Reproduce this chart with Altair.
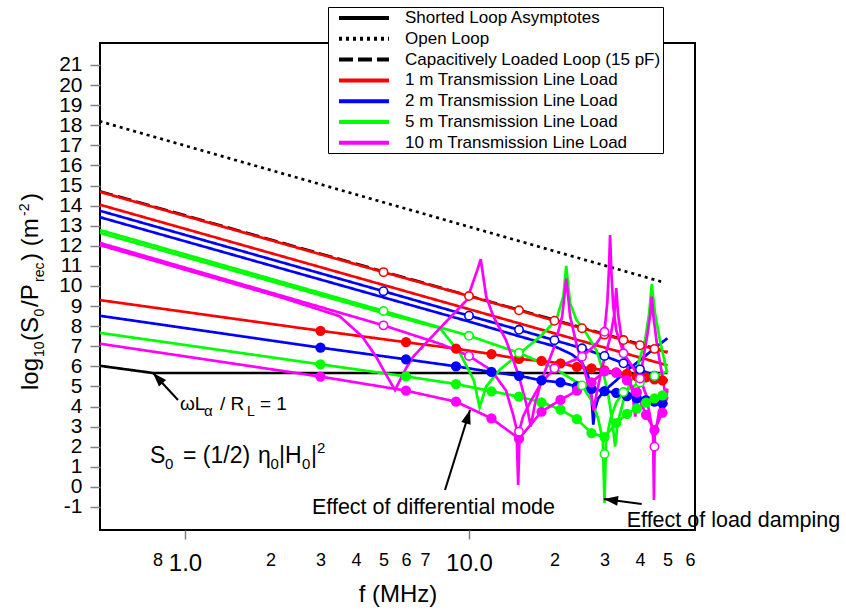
import altair as alt
import pandas as pd

FONT = "Liberation Sans"

SERIES = ["Shorted Loop Asymptotes", "Open Loop", "Capacitively Loaded Loop (15 pF)",
          "1 m Transmission Line Load", "2 m Transmission Line Load",
          "5 m Transmission Line Load", "10 m Transmission Line Load"]
COLORS = ["#000000", "#000000", "#000000", "#ff0000", "#0000ff", "#00ff00", "#ff00ff"]
DASHES = [[1, 0], [3, 4], [14, 5], [1, 0], [1, 0], [1, 0], [1, 0]]

# black reference curves
ASYM_F = [0.5, 0.77, 50]
ASYM_V = [6.03, 5.67, 5.67]
OPEN_F = [0.5, 48]
OPEN_V = [18.2, 10.2]
CAP_F = [0.5, 50]
CAP_V = [14.72, 6.72]

# upper curves (with open circles)
UP_F = [0.5, 5, 10, 15, 20, 25, 30, 35, 40, 45, 50]
R1_V = [14.69, 10.69, 9.5, 8.79, 8.27, 7.9, 7.58, 7.31, 7.05, 6.87, 6.69]
B1_V = [13.75, 9.74, 8.52, 7.82, 7.3, 6.9, 6.52, 6.15, 5.85, 5.53, 5.3]
G1_F = [0.5, 5, 10, 15, 20, 25, 27, 28.5, 29.6, 30, 30.4, 31.5, 33, 35, 40, 45, 50]
G1_V = [12.79, 8.76, 7.52, 6.67, 5.9, 5.05, 4.3, 3.4, 2.3, -0.8, 2.3, 3.4, 4.2, 4.72, 5.2, 5.52, 5.75]
M1_F = [0.5, 5, 8, 10, 12, 13.5, 14.3, 14.7, 14.9, 15.1, 15.5, 16.4, 18, 20, 25, 28, 30, 30.7,
        31.1, 31.4, 31.7, 32.2, 33, 35, 38, 40, 42, 43.8, 44.5, 44.8, 45.1, 46.5, 48, 50]
M1_V = [12.15, 8.04, 7.1, 6.52, 5.8, 4.8, 3.6, 2.9, 0.1, 2.9, 3.5, 4.2, 5.2, 5.9, 6.48, 7.1, 7.72, 9.2,
        10.8, 12.54, 10.8, 9.0, 7.8, 6.65, 5.9, 5.4, 4.6, 3.2, 2.5, -0.65, 2.5, 3.6, 4.3, 4.9]

# second upper curves (differential-mode resonances)
R2_F = [0.5, 50]
R2_V = [14.05, 6.05]
B2_F = [0.5, 10, 15, 20, 23, 25, 26.3, 27, 27.4, 27.8, 28.5, 30, 33, 36, 40, 45, 50]
B2_V = [13.43, 8.23, 7.5, 7.0, 6.6, 6.2, 5.5, 4.5, 3.1, 3.9, 4.4, 4.8, 5.3, 5.8, 6.3, 6.9, 7.4]
G2_F = [0.5, 5, 7.9, 9.3, 10.4, 10.9, 11.5, 12.8, 15.1, 17.8, 20.3, 21.5, 22.0, 22.7, 23.9, 26.0,
        28.1, 29.6, 31.0, 32.0, 32.7, 33.4, 35.0, 37.0, 38.9, 41.7, 43.1, 44.0, 45.2, 47.0, 49.6, 50.0]
G2_V = [12.65, 8.65, 7.9, 6.65, 5.3, 3.96, 5.0, 5.82, 6.65, 7.48, 8.31, 9.5, 11.0, 9.14, 8.31, 7.6,
        6.8, 5.8, 4.5, 3.2, 2.0, 3.2, 4.3, 5.2, 5.82, 7.31, 8.64, 10.08, 8.64, 7.31, 5.82, 5.7]
M2_F = [0.5, 2.22, 3.5, 4.2, 4.7, 5.1, 5.49, 6.0, 6.36, 7.9, 9.83, 10.7, 11.0, 11.5, 12.2, 13.5,
        15.0, 16.0, 16.5, 17.0, 18.0, 20.0, 21.3, 22.0, 22.7, 24.0, 25.5, 27.0, 27.5, 28.0, 29.5,
        31.5, 32.5, 33.0, 33.5, 34.5, 36.0, 37.5, 38.5, 39.5, 41.0, 42.5, 43.5, 44.0, 44.6, 46.0,
        48.0, 49.5, 50.0]
M2_V = [12.04, 9.4, 8.5, 7.5, 6.5, 5.6, 4.82, 5.9, 6.48, 7.9, 9.3, 10.8, 11.33, 9.47, 8.47, 7.31,
        5.5, 4.0, 3.0, 4.0, 5.3, 7.0, 8.5, 10.38, 8.5, 7.0, 5.8, 4.5, 3.8, 4.5, 6.0,
        7.5, 8.6, 9.89, 8.6, 7.3, 6.0, 4.8, 3.5, 4.8, 6.3, 7.6, 8.6, 9.47, 8.5, 7.0,
        5.5, 4.3, 4.5]

# open circles
CIRC_F = [5, 10, 15, 20, 25, 30, 35, 40, 45]
R_CIRC = [10.69, 9.5, 8.79, 8.27, 7.9, 7.58, 7.31, 7.05, 6.87]
B_CIRC = [9.74, 8.52, 7.82, 7.3, 6.9, 6.52, 6.15, 5.85, 5.53]
G_CIRC = [8.76, 7.52, 6.67, 5.9, 5.05, 1.64, 4.72, 5.2, 5.52]
M_CIRC = [8.04, 6.52, 2.75, 5.9, 6.48, 7.72, 6.65, 5.4, 2.0]

# lower curves with filled dots
DOT_F = [3, 6, 9, 12, 15, 18, 21, 24, 27, 30, 33, 36, 39, 42, 45, 48]
R_DOT = [7.77, 7.2, 6.88, 6.61, 6.37, 6.27, 6.15, 5.97, 5.9, 5.8, 5.7, 5.62, 5.5, 5.45, 5.35, 5.3]
B_DOT = [6.93, 6.35, 6.0, 5.72, 5.53, 5.3, 5.2, 5.0, 4.88, 4.77, 4.68, 4.52, 4.41, 4.32, 4.24, 4.16]
G_DOT = [6.1, 5.5, 5.12, 4.76, 4.49, 4.21, 3.85, 3.37, 2.68, 2.48, 3.18, 3.63, 3.9, 4.2, 4.4, 4.55]
M_DOT = [5.49, 4.79, 4.24, 3.41, 2.4, 3.74, 4.33, 4.79, 5.2, 5.75, 5.68, 5.3, 4.7, 3.58, 2.83, 3.7]
LOW_START = [9.30, 8.52, 7.67, 7.13]
LOW_END = [5.27, 4.12, 4.6, 4.8]

X_TICKS = [0.8, 1, 2, 3, 4, 5, 6, 7, 10, 20, 30, 40, 50, 60]
Y_TICKS = list(range(-1, 22))

# ---------------------------------------------------------------- helpers
def curve_df(name, series, fs, vs):
    return pd.DataFrame({"curve": name, "series": series, "f": fs, "v": vs,
                         "i": list(range(len(fs)))})

S_ASYM, S_OPEN, S_CAP, S_1, S_2, S_5, S_10 = SERIES

groups = {
    "black": [curve_df("cap", S_CAP, CAP_F, CAP_V),
              curve_df("asym", S_ASYM, ASYM_F, ASYM_V),
              curve_df("open", S_OPEN, OPEN_F, OPEN_V)],
    "red": [curve_df("r_low", S_1, [0.5] + DOT_F + [50], [LOW_START[0]] + R_DOT + [LOW_END[0]]),
            curve_df("r2", S_1, R2_F, R2_V),
            curve_df("r1", S_1, UP_F, R1_V)],
    "blue": [curve_df("b_low", S_2, [0.5] + DOT_F + [50], [LOW_START[1]] + B_DOT + [LOW_END[1]]),
             curve_df("b2", S_2, B2_F, B2_V),
             curve_df("b1", S_2, UP_F, B1_V)],
    "green": [curve_df("g_low", S_5, [0.5] + DOT_F + [50], [LOW_START[2]] + G_DOT + [LOW_END[2]]),
              curve_df("g2", S_5, G2_F, G2_V),
              curve_df("g1", S_5, G1_F, G1_V)],
    "magenta": [curve_df("m_low", S_10, [0.5] + DOT_F + [50], [LOW_START[3]] + M_DOT + [LOW_END[3]]),
                curve_df("m2", S_10, M2_F, M2_V),
                curve_df("m1", S_10, M1_F, M1_V)],
}

dots = pd.concat([pd.DataFrame({"series": s, "f": DOT_F, "v": d})
                  for s, d in [(S_1, R_DOT), (S_2, B_DOT), (S_5, G_DOT), (S_10, M_DOT)]])
circs = pd.concat([pd.DataFrame({"series": s, "f": CIRC_F, "v": d})
                   for s, d in [(S_1, R_CIRC), (S_2, B_CIRC), (S_5, G_CIRC), (S_10, M_CIRC)]])

MAJOR = "datum.value == 1 || datum.value == 10"
X = alt.X("f:Q",
          scale=alt.Scale(type="log", domain=[0.502, 62.5], nice=False),
          axis=alt.Axis(values=X_TICKS,
                        labelExpr="datum.value == 1 ? '1.0' : datum.value == 10 ? '10.0' : "
                                  "datum.value < 1 ? '8' : datum.value < 10 ? format(datum.value, 'd') : "
                                  "format(datum.value / 10, 'd')",
                        labelFontSize={"condition": {"test": MAJOR, "value": 24}, "value": 18},
                        tickOpacity={"condition": {"test": MAJOR, "value": 1}, "value": 0},
                        tickSize=9, tickColor="#808080", tickWidth=1.5,
                        labelPadding=12, labelOverlap=False, labelFlush=False,
                        domain=False, grid=False, labelColor="black", labelFont=FONT,
                        title="f (MHz)", titleFontSize=24, titleFont=FONT,
                        titleFontWeight="normal", titleColor="black", titlePadding=7))
Y = alt.Y("v:Q",
          scale=alt.Scale(domain=[-2.146, 22.095], nice=False, zero=False),
          axis=alt.Axis(values=Y_TICKS, labelExpr="'' + datum.value",
                        labelFontSize=21, labelFont=FONT, labelColor="black",
                        tickSize=10, tickColor="#808080", tickWidth=1.5, labelPadding=8,
                        labelOverlap=False, labelFlush=False, domain=False, grid=False,
                        title=None))

LEG = alt.Legend(title=None, orient="none", legendX=228, legendY=-36,
                 fillColor="white", strokeColor="black", padding=2,
                 symbolType="M0,0H7.14", symbolSize=196, symbolStrokeWidth=4,
                 labelFontSize=17, labelFont=FONT, labelColor="black",
                 labelOffset=57, labelLimit=400, rowPadding=3.8, symbolOpacity=1)

color_enc = alt.Color("series:N", scale=alt.Scale(domain=SERIES, range=COLORS), legend=LEG)
dash_enc = alt.StrokeDash("series:N", scale=alt.Scale(domain=SERIES, range=DASHES), legend=LEG)

layers = []
for key in ["black", "red", "blue", "green", "magenta"]:
    df = pd.concat(groups[key])
    layers.append(
        alt.Chart(df).mark_line(strokeWidth=2.7, clip=True).encode(
            x=X, y=Y, color=color_enc, strokeDash=dash_enc,
            detail="curve:N", order="i:Q"))

layers.append(
    alt.Chart(dots).mark_point(filled=True, size=105, opacity=1, strokeWidth=0).encode(
        x=X, y=Y,
        fill=alt.Fill("series:N", scale=alt.Scale(domain=SERIES, range=COLORS), legend=None)))
layers.append(
    alt.Chart(circs).mark_point(filled=True, size=70, opacity=1, strokeWidth=1.6).encode(
        x=X, y=Y, fill=alt.value("white"),
        stroke=alt.Stroke("series:N", scale=alt.Scale(domain=SERIES, range=COLORS), legend=None)))

ONE = pd.DataFrame({"a": [0]})

# annotation text pieces: (text, x, y, size, angle)
TEXTS = [
    ("log", -62.5, 347, 24, 270), ("10", -56, 314, 14, 270), ("(S", -62.5, 298, 24, 270),
    ("0", -56, 273.5, 14, 270), ("/P", -62.5, 264, 24, 270), ("rec", -56, 239, 14, 270),
    (") (m", -62.5, 218, 24, 270), ("-2", -71, 173, 14, 270), (")", -62.5, 158, 24, 270),
    ("ωL", 80, 367, 19, 0), ("α", 104, 373, 15, 0), ("/ R", 120, 367, 19, 0),
    ("L", 147, 373, 14, 0), ("= 1", 160, 367, 19, 0),
    ("S", 50, 420, 23, 0), ("0", 65, 426, 15, 0), ("= (1/2)", 83, 420, 23, 0),
    ("η", 158, 420, 23, 0), ("0", 170.5, 426, 15, 0), ("|H", 179, 420, 23, 0),
    ("0", 202, 426, 15, 0), ("|", 211, 420, 23, 0), ("2", 217, 410, 15, 0),
    ("Effect of differential mode", 212, 471, 21.5, 0),
    ("Effect of load damping", 526.7, 484, 21.5, 0),
]
for txt, px, py, sz, ang in TEXTS:
    layers.append(alt.Chart(ONE).mark_text(text=txt, align="left", baseline="alphabetic",
                                           font=FONT, fontSize=sz, angle=ang, color="black")
                  .encode(x=alt.value(px), y=alt.value(py)))

# arrows: (x_from, y_from, x_tip, y_tip, angle)
ARROWS = [(78, 357, 53, 330, 317), (345, 447, 370, 367, 17), (541.7, 461, 504, 456, 278)]
for x0, y0, x1, y1, ang in ARROWS:
    layers.append(alt.Chart(ONE).mark_rule(strokeWidth=2, color="black").encode(
        x=alt.value(x0), y=alt.value(y0), x2=alt.value(x1), y2=alt.value(y1)))
    layers.append(alt.Chart(ONE).mark_point(shape="M0,0L-0.7,2L0.7,2Z", size=196, angle=ang,
                                            filled=True, color="black", opacity=1)
                  .encode(x=alt.value(x1), y=alt.value(y1)))

chart = alt.layer(*layers).properties(
    width=595, height=487,
    autosize=alt.AutoSizeParams(type="none"),
    padding={"left": 100, "top": 43, "right": 151, "bottom": 81},
).configure(font=FONT).configure_view(stroke="black", strokeWidth=2)

chart.save("out.html", embed_options={"renderer": "svg", "actions": False})
